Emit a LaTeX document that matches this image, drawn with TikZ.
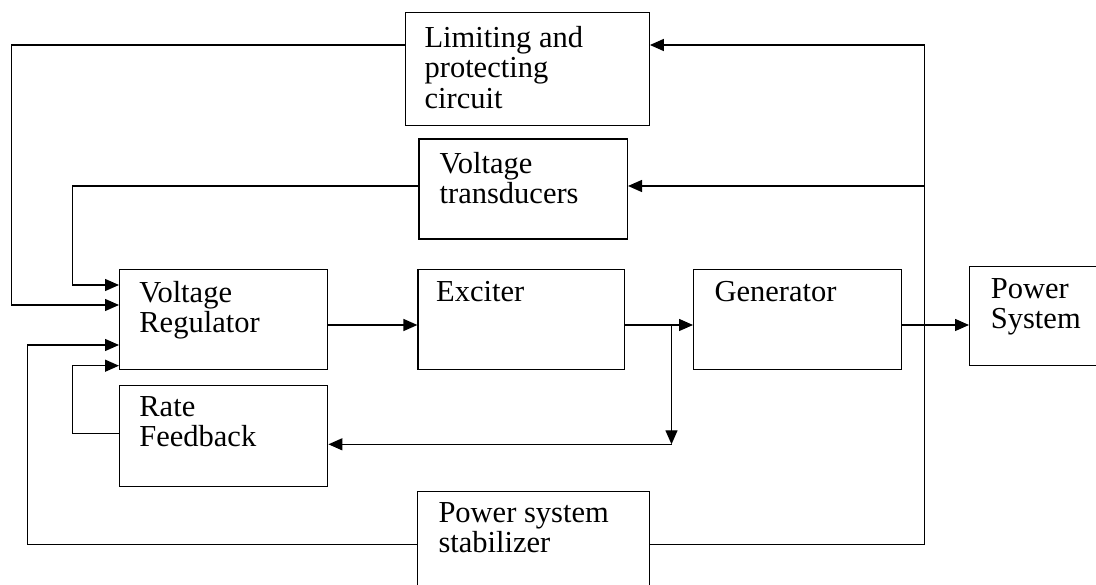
\documentclass[tikz,border=0pt]{standalone}
\usepackage{fontspec}
\setmainfont{Liberation Serif}
\usetikzlibrary{arrows.meta,calc}
\tikzset{
  blk/.style={draw=black, line width=1.4pt, minimum width=#1, inner sep=0pt, anchor=north west},
  txt/.style={anchor=north west, align=left, inner sep=0pt, font=\fontsize{30.5}{30.5}\selectfont},
  ln/.style={line width=1.4pt, draw=black},
  arr/.style={ln, -{Triangle[length=14pt,width=12pt]}}
}
\begin{document}
\begin{tikzpicture}[x=1pt,y=-1pt]
\useasboundingbox (0,0) rectangle (1096,585);
% boxes
\node[blk=243.5pt, minimum height=113pt] (lim) at (405,12) {};
\node[blk=208.2pt, minimum height=100pt] (tra) at (418.4,138.3) {};
\node[blk=208pt, minimum height=100pt] (vr) at (119,269) {};
\node[blk=206.1pt, minimum height=100pt] (exc) at (417.4,269) {};
\node[blk=208pt, minimum height=100pt] (gen) at (693,269) {};
\node[blk=150pt, minimum height=99pt] (ps) at (969,266) {};
\node[blk=208pt, minimum height=100.7pt] (rf) at (119,385) {};
\node[blk=231.5pt, minimum height=110pt] (pss) at (417,491) {};
% texts (top of first line = baseline - 21)
\node[txt] (tlim) at (424.4,26) {Limiting and\\protecting\\circuit};
\node[txt] (ttra) at (439.5,152) {Voltage\\transducers};
\node[txt] (tvr) at (139.2,280.7) {Voltage\\Regulator};
\node[txt] (texc) at (436,280.7) {Exciter};
\node[txt] (tgen) at (714.3,280.7) {Generator};
\node[txt] (tps) at (990.7,278) {Power\\System};
\node[txt] (trf) at (139.2,396) {Rate\\Feedback};
\node[txt] (tpss) at (438.3,502.3) {Power system\\stabilizer};
% coordinates
\coordinate (btop) at (924.7,45);
\coordinate (btra) at (924.7,186);
\coordinate (bbot) at (924.7,544.3);
\coordinate (l1) at (11.6,45);
\coordinate (l2) at (72.6,186);
\coordinate (l3) at (27.4,544.3);
\coordinate (l4) at (72.6,433.3);
\coordinate (i1) at (0,285);
\coordinate (i2) at (0,305);
\coordinate (i3) at (0,345);
\coordinate (i4) at (0,365.7);
\coordinate (main) at (0,325);
\coordinate (jn) at (671.5,325);
\coordinate (jd) at (671.5,444.3);
% bus
\draw[ln] (btop) -- (bbot);
\draw[arr] (btop) -- (btop -| lim.east);
\draw[arr] (btra) -- (btra -| tra.east);
\draw[ln] (bbot) -- (bbot -| pss.east);
% feedbacks into regulator
\draw[arr] (l1 -| lim.west) -- (l1) -- (l1 |- i2) -- (i2 -| vr.west);
\draw[arr] (l2 -| tra.west) -- (l2) -- (l2 |- i1) -- (i1 -| vr.west);
\draw[arr] (l3 -| pss.west) -- (l3) -- (l3 |- i3) -- (i3 -| vr.west);
\draw[arr] (l4 -| rf.west) -- (l4) -- (l4 |- i4) -- (i4 -| vr.west);
% forward path
\draw[arr] (main -| vr.east) -- (main -| exc.west);
\draw[arr] (main -| exc.east) -- (main -| gen.west);
\draw[arr] (main -| gen.east) -- (main -| ps.west);
\draw[arr] (jn) -- (jd);
\draw[arr] (jd) -- (jd -| rf.east);
\end{tikzpicture}
\end{document}
